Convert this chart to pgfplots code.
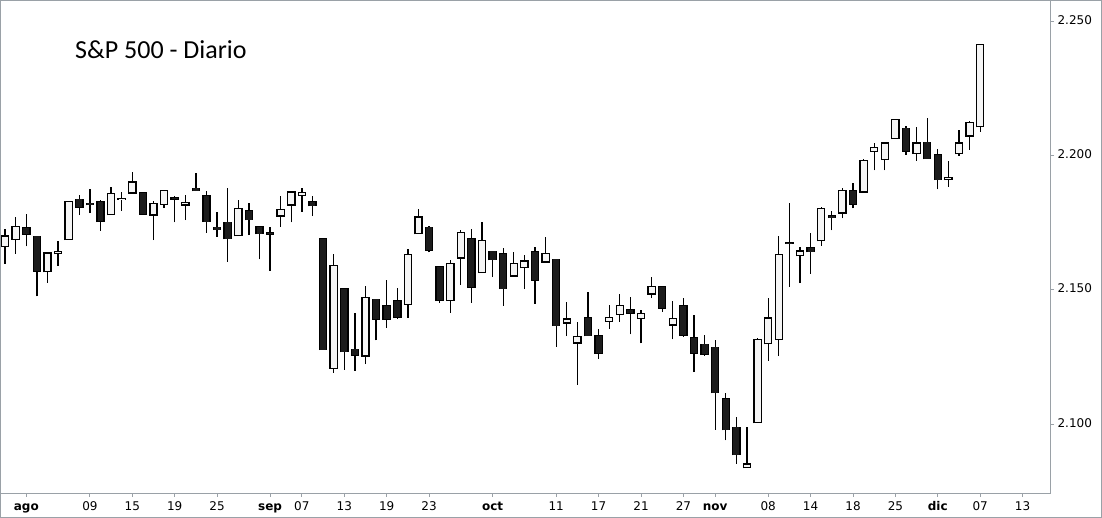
\documentclass[border=0pt]{standalone}
\usepackage{pgfplots}
\pgfplotsset{compat=1.18}
\usepackage{pgfplotstable}
\usepackage{fontspec}
\setmainfont{DejaVu Sans}
\newfontfamily\titlefont{Carlito}
\definecolor{frame}{HTML}{9AA1A7}
\definecolor{bear}{HTML}{1C1C1C}
\definecolor{bull}{HTML}{F5F5F5}

% i = trading day (0 = 28 jul 2016), open high low close
\pgfplotstableread{
i o h l c
0 2166.05 2172.85 2159.74 2170.06
1 2168.83 2177.09 2163.49 2173.60
4 2156.81 2163.79 2152.70 2163.79
5 2163.51 2168.19 2159.07 2164.25
6 2168.79 2182.87 2168.79 2182.87
10 2177.97 2188.45 2177.97 2185.79
11 2183.74 2186.28 2179.42 2184.05
12 2186.08 2193.81 2186.08 2190.15
14 2177.84 2183.08 2168.50 2182.22
15 2181.90 2187.03 2180.46 2187.02
17 2181.58 2185.15 2175.96 2182.64
22 2170.19 2183.48 2170.19 2180.38
26 2177.49 2184.87 2173.59 2179.98
27 2181.61 2186.57 2175.10 2186.48
28 2185.17 2187.87 2179.07 2186.16
31 2120.86 2163.30 2119.12 2159.04
34 2125.36 2151.31 2122.36 2147.26
38 2144.58 2165.11 2139.57 2163.12
39 2170.94 2179.99 2170.94 2177.18
42 2146.04 2161.13 2141.55 2159.93
43 2161.85 2172.40 2151.79 2171.37
45 2156.51 2175.30 2156.51 2168.27
48 2155.15 2163.95 2155.15 2159.73
49 2158.22 2162.93 2150.28 2160.77
51 2160.39 2169.60 2160.39 2163.66
53 2137.67 2145.36 2132.77 2139.18
54 2130.26 2138.19 2114.72 2132.55
57 2138.31 2144.38 2135.49 2139.60
58 2140.81 2148.44 2138.15 2144.29
60 2139.43 2142.63 2130.09 2141.16
61 2148.50 2154.79 2146.91 2151.33
63 2136.97 2145.73 2131.59 2139.43
70 2083.79 2099.07 2083.79 2085.18
71 2100.59 2132.00 2100.59 2131.52
72 2129.92 2146.87 2123.56 2139.56
73 2131.56 2170.10 2125.35 2163.26
75 2162.71 2165.92 2152.49 2164.45
77 2168.29 2180.84 2166.38 2180.39
79 2178.61 2188.06 2176.65 2187.12
81 2186.43 2198.70 2186.43 2198.18
82 2201.56 2204.80 2194.51 2202.94
83 2198.55 2204.72 2194.51 2204.72
84 2206.27 2213.35 2206.27 2213.35
86 2200.76 2210.46 2198.15 2204.66
89 2191.12 2197.95 2188.37 2191.95
90 2200.65 2209.42 2199.97 2204.71
91 2207.26 2212.78 2202.21 2212.23
92 2210.72 2241.63 2208.93 2241.35
}\upcandles

\pgfplotstableread{
i o h l c
2 2173.15 2178.29 2166.21 2170.84
3 2169.94 2170.20 2147.58 2157.03
7 2183.76 2185.44 2177.85 2180.89
8 2182.24 2187.66 2178.61 2181.74
9 2182.81 2183.41 2172.00 2175.49
13 2186.24 2186.24 2178.14 2178.15
16 2184.24 2185.00 2175.13 2183.87
18 2187.81 2193.42 2186.80 2186.90
19 2185.09 2186.66 2171.25 2175.44
20 2173.29 2179.00 2169.74 2172.47
21 2175.10 2187.94 2160.39 2169.04
23 2179.45 2182.27 2170.41 2176.12
24 2173.56 2173.79 2161.35 2170.95
25 2171.33 2173.56 2157.09 2170.86
29 2182.76 2184.94 2177.49 2181.30
30 2169.08 2169.08 2127.81 2127.81
32 2150.47 2150.47 2120.27 2127.02
33 2127.86 2141.33 2119.90 2125.77
35 2146.48 2146.48 2131.20 2139.16
36 2143.99 2153.61 2135.91 2139.12
37 2145.94 2150.80 2139.17 2139.76
40 2173.29 2173.75 2163.97 2164.69
41 2158.54 2158.54 2145.04 2146.10
44 2168.90 2172.67 2145.20 2151.13
46 2164.33 2164.33 2154.77 2161.20
47 2163.37 2165.46 2144.01 2150.49
50 2164.19 2165.86 2144.85 2153.74
52 2161.35 2161.56 2128.84 2136.73
55 2139.68 2149.19 2132.98 2132.98
56 2132.95 2135.61 2124.43 2126.50
59 2142.51 2147.18 2133.44 2141.34
62 2151.16 2151.16 2141.93 2143.16
64 2144.06 2147.13 2132.52 2133.04
65 2132.23 2140.72 2119.36 2126.41
66 2129.78 2133.25 2125.53 2126.15
67 2128.68 2131.45 2097.85 2111.72
68 2109.43 2111.76 2094.00 2097.94
69 2098.80 2102.56 2085.23 2088.66
74 2167.49 2182.30 2151.17 2167.48
76 2165.64 2171.36 2156.08 2164.20
78 2177.53 2179.22 2172.20 2176.94
80 2186.85 2189.89 2180.38 2181.90
85 2210.21 2211.14 2200.36 2201.72
87 2204.97 2214.10 2198.81 2198.81
88 2200.17 2202.60 2187.44 2191.08
}\downcandles

\pgfplotsset{
  candle/.style={draw=none, mark=none,
    error bars/.cd, y dir=plus, y explicit, error mark=none,
    error bar style={#1}},
}

\begin{document}
\begin{tikzpicture}
\begin{axis}[
  scale only axis, width=1049.5bp, height=492.5bp,
  ymin=2074.39, ymax=2257.74,
  xmin=-0.434, xmax=98.59,
  axis line style={draw=frame, line width=1bp},
  tick style={draw=frame, line width=1bp},
  major tick length=4bp, tick align=outside,
  xtick pos=bottom, ytick pos=right, yticklabel pos=right,
  xtick={2,8,12,16,20,25,28,32,36,40,46,52,56,60,64,67,72,76,80,84,88,92,96},
  xticklabels={\textbf{ago},09,15,19,25,\textbf{sep},07,13,19,23,\textbf{oct},11,17,21,27,\textbf{nov},08,14,18,25,\textbf{dic},07,13},
  ytick={2100,2150,2200,2250},
  yticklabels={{2.100},{2.150},{2.200},{2.250}},
  minor tick num=0,
  ticklabel style={font=\fontsize{12bp}{14bp}\selectfont, text=black},
  typeset ticklabels with strut,
]
% wicks
\addplot[candle={draw=black, line width=1.3bp}]
  table[x=i, y=l, y error plus expr=\thisrow{h}-\thisrow{l}] {\upcandles};
\addplot[candle={draw=black, line width=1.3bp}]
  table[x=i, y=l, y error plus expr=\thisrow{h}-\thisrow{l}] {\downcandles};
% bodies
\addplot[candle={draw=black, line width=8.5bp, line cap=butt, shorten <=-0.65bp, shorten >=-0.65bp}]
  table[x=i, y=o, y error plus expr=\thisrow{c}-\thisrow{o}] {\upcandles};
\addplot[candle={draw=bull, line width=5.9bp, line cap=butt, shorten <=0.65bp, shorten >=0.65bp}]
  table[x=i, y=o, y error plus expr=\thisrow{c}-\thisrow{o}] {\upcandles};
\addplot[candle={draw=black, line width=8.5bp, line cap=butt, shorten <=-0.65bp, shorten >=-0.65bp}]
  table[x=i, y=c, y error plus expr=\thisrow{o}-\thisrow{c}] {\downcandles};
\addplot[candle={draw=bear, line width=5.9bp, line cap=butt}]
  table[x=i, y=c, y error plus expr=\thisrow{o}-\thisrow{c}] {\downcandles};
\end{axis}
\draw[frame, line width=1bp] ([shift={(0bp,-24.5bp)}]current axis.south west) rectangle ++(1101bp,517bp);
\node[anchor=base west, inner sep=0pt, font=\titlefont\fontsize{26bp}{30bp}\selectfont]
  at ([shift={(74.5bp,434.7bp)}]current axis.south west) {S\&P 500 - Diario};
\end{tikzpicture}
\end{document}
